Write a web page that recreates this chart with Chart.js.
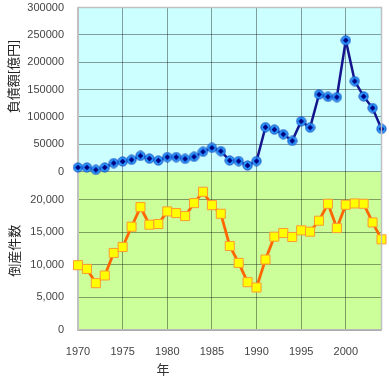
<!DOCTYPE html>
<html><head><meta charset="utf-8">
<script src="https://cdn.jsdelivr.net/npm/chart.js@4"></script>
<style>html,body{margin:0;padding:0;background:#fff;}#wrap{position:relative;width:389px;height:381px;}</style>
</head><body><div id="wrap"><canvas id="c" width="389" height="381"></canvas></div>
<script>
const years = [1970,1971,1972,1973,1974,1975,1976,1977,1978,1979,1980,1981,1982,1983,1984,1985,1986,1987,1988,1989,1990,1991,1992,1993,1994,1995,1996,1997,1998,1999,2000,2001,2002,2003,2004];
const debt = [7800,7800,3500,7800,15800,18700,21800,29000,24000,20500,26700,26700,23600,27300,36400,43600,37600,20500,19400,11500,19400,81300,77000,68500,56400,92200,80600,141200,136900,136400,240000,165500,137600,116400,78200];
const bankruptcies = [9950,9380,7190,8370,11830,12750,15860,18870,16170,16270,18210,17950,17490,19480,21220,19170,17850,12900,10300,7340,6530,10820,14330,14890,14280,15300,15100,16780,19380,15650,19230,19430,19380,16520,13920];
const debtTicks = [0,50000,100000,150000,200000,250000,300000];
const countTicks = [0,5000,10000,15000,20000];
const yearTicks = [1970,1975,1980,1985,1990,1995,2000];
const debtTitle = '負債額[億円]';
const countTitle = '倒産件数';
const xTitle = '年';

// circle marker with dark centre
const mk = document.createElement('canvas');
mk.width = 11; mk.height = 11;
(function(){
  const g = mk.getContext('2d');
  g.beginPath(); g.arc(5.5,5.5,4.6,0,Math.PI*2);
  g.fillStyle = '#2a9cff'; g.fill();
  g.lineWidth = 1; g.strokeStyle = '#1a4cc0'; g.stroke();
  g.beginPath(); g.moveTo(5.5,2.6); g.lineTo(8.4,5.5); g.lineTo(5.5,8.4); g.lineTo(2.6,5.5); g.closePath();
  g.fillStyle = '#000080'; g.fill();
})();

const bgPlugin = {
  id: 'bg',
  beforeDraw(chart) {
    const {ctx, chartArea: a, scales} = chart;
    ctx.save();
    ctx.fillStyle = '#ccffff';
    ctx.fillRect(a.left, scales.yDebt.top, a.right - a.left, scales.yDebt.bottom - scales.yDebt.top);
    ctx.fillStyle = '#ccff99';
    ctx.fillRect(a.left, scales.yCount.top, a.right - a.left, scales.yCount.bottom - scales.yCount.top);
    ctx.restore();
  },
  afterDraw(chart) {
    const {ctx, chartArea: a, scales} = chart;
    ctx.save();
    ctx.strokeStyle = '#c0c0c0';
    ctx.lineWidth = 1.5;
    ctx.beginPath();
    ctx.moveTo(a.left, a.top); ctx.lineTo(a.right, a.top); ctx.lineTo(a.right, a.bottom);
    ctx.stroke();
    ctx.fillStyle = '#222';
    ctx.font = '13px "Noto Sans CJK JP"';
    ctx.textAlign = 'center'; ctx.textBaseline = 'middle';
    const cy1 = scales.yDebt.top + (scales.yDebt.bottom - scales.yDebt.top) * 0.42;
    const cy2 = (scales.yCount.top + scales.yCount.bottom) / 2;
    ctx.save(); ctx.translate(13, cy1); ctx.rotate(-Math.PI/2); ctx.fillText(debtTitle, 0, 0); ctx.restore();
    ctx.save(); ctx.translate(14, cy2); ctx.rotate(-Math.PI/2); ctx.fillText(countTitle, 0, 0); ctx.restore();
    ctx.fillStyle = '#333';
    ctx.fillText(xTitle, a.left + (a.right - a.left) * 0.28, 369);
    ctx.restore();
  }
};

const tickFont = {family: '"Liberation Sans", Arial, sans-serif', size: 11};
const gridColor = 'rgba(0,0,0,0.38)';
function fitY(s){ s.width = 78; s.paddingTop = 0; s.paddingBottom = 0; }

new Chart(document.getElementById('c'), {
  type: 'line',
  data: {
    datasets: [
      {
        data: years.map((y,i)=>({x:y, y:debt[i]})),
        yAxisID: 'yDebt',
        borderColor: '#14148c', borderWidth: 2.5,
        pointStyle: mk, pointRadius: 5,
        clip: false, tension: 0
      },
      {
        data: years.map((y,i)=>({x:y, y:bankruptcies[i]})),
        yAxisID: 'yCount',
        borderColor: '#ff6600', borderWidth: 2.8,
        pointStyle: 'rect', pointRadius: 6.4,
        pointBackgroundColor: '#ffff00', pointBorderColor: '#ff9933', pointBorderWidth: 1,
        clip: false, tension: 0
      }
    ]
  },
  options: {
    responsive: false, animation: false,
    layout: {padding: {top: 6, right: 7, left: 0, bottom: 0}},
    plugins: {legend: {display: false}, tooltip: {enabled: false}},
    scales: {
      x: {
        type: 'linear', min: 1970, max: 2004,
        afterBuildTicks(s){ s.ticks = yearTicks.map(v=>({value:v})); },
        afterFit(s){ s.height = 51; s.paddingRight = 0; },
        grid: {color: gridColor, lineWidth: 1, drawTicks: false},
        border: {color: '#b8b8b8', width: 1.5},
        ticks: {font: tickFont, color: '#444', padding: 15, maxRotation: 0, autoSkip: false, callback: v => String(v)}
      },
      yCount: {
        type: 'linear', position: 'left', stack: 'y', stackWeight: 159,
        min: 0, max: 24300,
        afterBuildTicks(s){ s.ticks = countTicks.map(v=>({value:v})); },
        afterFit: fitY,
        grid: {color: gridColor, lineWidth: 1, drawTicks: false},
        border: {color: '#c0c0c0', width: 2},
        ticks: {font: tickFont, color: '#444', padding: 14, autoSkip: false, callback: v => v.toLocaleString('en-US')}
      },
      yDebt: {
        type: 'linear', position: 'left', stack: 'y', stackWeight: 165,
        min: 0, max: 300000,
        afterBuildTicks(s){ s.ticks = debtTicks.map(v=>({value:v})); },
        afterFit: fitY,
        grid: {color: gridColor, lineWidth: 1, drawTicks: false},
        border: {color: '#c0c0c0', width: 2},
        ticks: {font: tickFont, color: '#444', padding: 14, autoSkip: false, callback: v => String(v)}
      }
    }
  },
  plugins: [bgPlugin]
});
</script>
</body></html>
